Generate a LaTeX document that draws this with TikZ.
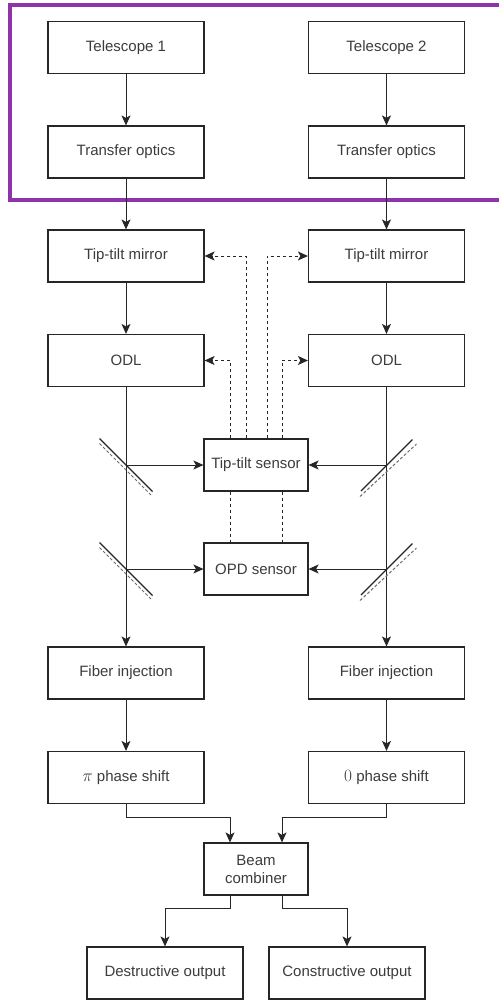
\documentclass[tikz,border=0pt]{standalone}
\usepackage{fontspec}
\setmainfont{Liberation Sans}
\usetikzlibrary{arrows.meta}
\definecolor{lc}{RGB}{38,38,38}
\definecolor{tc}{RGB}{60,60,60}
\definecolor{purp}{RGB}{142,52,170}
\definecolor{mg}{RGB}{110,110,110}
\begin{document}
\begin{tikzpicture}[x=1pt,y=-1pt,
  box/.style={draw=lc, line width=1.2pt, minimum width=156pt, minimum height=52pt, inner sep=0pt, font=\fontsize{15}{18}\selectfont, text=tc},
  sbox/.style={box, minimum width=104pt},
  arr/.style={draw=lc, line width=1pt, -{Stealth[length=10pt,width=9pt,inset=2.5pt]}},
  darr/.style={arr, dash pattern=on 3pt off 3pt},
  dline/.style={draw=lc, line width=1pt, dash pattern=on 3pt off 3pt},
  mir/.style={draw=lc, line width=1.2pt},
  mird/.style={draw=mg, line width=1pt, dash pattern=on 3pt off 2pt}]
\useasboundingbox (0,0) rectangle (498,1001);
\fill[white] (0,0) rectangle (498,1001);
% purple frame
\draw[purp, line width=4pt] (9.5,4.5) rectangle (510,200);
% nodes
\node[box] (t1) at (126,47.5) {Telescope 1};
\node[box] (t2) at (386.5,47.5) {Telescope 2};
\node[box] (to1) at (126,152) {Transfer optics};
\node[box] (to2) at (386.5,152) {Transfer optics};
\node[box] (ttm1) at (126,256) {Tip-tilt mirror};
\node[box] (ttm2) at (386.5,256) {Tip-tilt mirror};
\node[box] (odl1) at (126,360.5) {ODL};
\node[box] (odl2) at (386.5,360.5) {ODL};
\node[sbox] (tts) at (256,465) {Tip-tilt sensor};
\node[sbox] (opd) at (256,569) {OPD sensor};
\node[box] (fi1) at (126,673) {Fiber injection};
\node[box] (fi2) at (386.5,673) {Fiber injection};
\node[box] (ps1) at (126,777.5) {{\fontsize{17}{18}\selectfont$\pi$} phase shift};
\node[box] (ps2) at (386.5,777.5) {{\fontsize{17}{18}\selectfont$0$} phase shift};
\node[sbox, align=center] (bc) at (256,869) {Beam\\combiner};
\node[box] (do) at (165,973) {Destructive output};
\node[box] (co) at (347,973) {Constructive output};
% vertical arrows
\draw[arr] (t1) -- (to1);
\draw[arr] (t2) -- (to2);
\draw[arr] (to1) -- (ttm1);
\draw[arr] (to2) -- (ttm2);
\draw[arr] (ttm1) -- (odl1);
\draw[arr] (ttm2) -- (odl2);
\draw[arr] (odl1) -- (fi1);
\draw[arr] (odl2) -- (fi2);
\draw[arr] (fi1) -- (ps1);
\draw[arr] (fi2) -- (ps2);
% beam splitters
\coordinate (m1) at (odl1.south |- tts.west);
\coordinate (m2) at (odl1.south |- opd.west);
\coordinate (m3) at (odl2.south |- tts.east);
\coordinate (m4) at (odl2.south |- opd.east);
\draw[arr] (m1) -- (tts.west);
\draw[arr] (m2) -- (opd.west);
\draw[arr] (m3) -- (tts.east);
\draw[arr] (m4) -- (opd.east);
\foreach \m in {m1,m2}{
  \draw[mir, shift={(\m)}] (-26.5,-26.5) -- (26.5,26.5);
  \draw[mird, shift={(\m)}] (-26.5,-21.5) -- (26.5,31.5);
}
\foreach \m in {m3,m4}{
  \draw[mir, shift={(\m)}] (-25.5,26) -- (26,-25.5);
  \draw[mird, shift={(\m)}] (-26.5,31.5) -- (30,-21);
}
% dashed control lines
\draw[darr] ([xshift=-10pt]tts.north) |- (ttm1.east);
\draw[darr] ([xshift=-26pt]tts.north) |- (odl1.east);
\draw[darr] ([xshift=11pt]tts.north) |- (ttm2.west);
\draw[darr] ([xshift=26pt]tts.north) |- (odl2.west);
\draw[dline] ([xshift=-26pt]tts.south) -- ([xshift=-26pt]opd.north);
\draw[dline] ([xshift=26pt]tts.south) -- ([xshift=26pt]opd.north);
% combiner
\draw[arr] (ps1.south) -- ++(0,13) -| ([xshift=-26pt]bc.north);
\draw[arr] (ps2.south) -- ++(0,13) -| ([xshift=26pt]bc.north);
\draw[arr] ([xshift=-26pt]bc.south) -- ++(0,13) -| (do.north);
\draw[arr] ([xshift=26pt]bc.south) -- ++(0,13) -| (co.north);
\end{tikzpicture}
\end{document}
